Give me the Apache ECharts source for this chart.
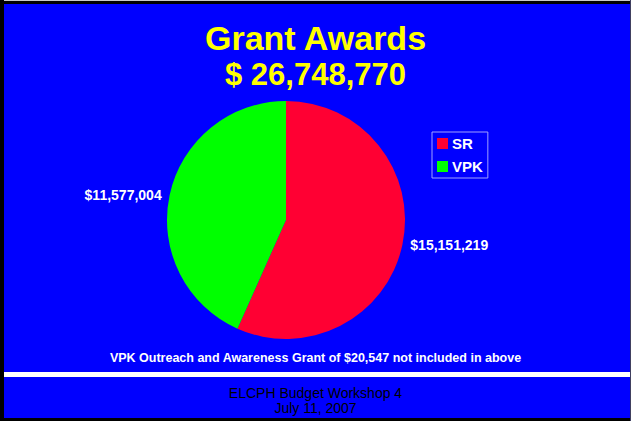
<!DOCTYPE html>
<html>
<head>
<meta charset="utf-8">
<script src="https://cdn.jsdelivr.net/npm/echarts@6/dist/echarts.min.js"></script>
<style>
html,body{margin:0;padding:0;background:#fff;}
#c{width:631px;height:421px;}
</style>
</head>
<body>
<div id="c"></div>
<script>
const categories = ['SR', 'VPK'];
const values = [15151219, 11577004];
const titleText = 'Grant Awards';
const totalText = '$ 26,748,770';
const noteText = 'VPK Outreach and Awareness Grant of $20,547 not included in above';
const footerLines = ['ELCPH Budget Workshop 4', 'July 11, 2007'];

const sliceColors = ['#FF0033', '#00FF00'];
const labelPads = [[6, 0, 0, 0], [0, 0, 6, 0]];
const FONT = '"Liberation Sans", Arial, Helvetica, sans-serif';

function money(v) {
  return '$' + v.toString().replace(/\B(?=(\d{3})+(?!\d))/g, ',');
}

const chart = echarts.init(document.getElementById('c'), null, {renderer: 'svg'});
chart.setOption({
  animation: false,
  backgroundColor: '#0000FF',
  title: [
    {
      text: titleText,
      subtext: totalText,
      left: 'center',
      top: 20,
      padding: 0,
      itemGap: 2,
      textStyle: {color: '#FFFF00', fontSize: 34, fontWeight: 'bold', fontFamily: FONT, lineHeight: 36},
      subtextStyle: {color: '#FFFF00', fontSize: 31, fontWeight: 'bold', fontFamily: FONT, lineHeight: 33}
    },
    {
      text: noteText,
      left: 'center',
      top: 351,
      padding: 0,
      textStyle: {color: '#FFFFFF', fontSize: 12.5, fontWeight: 'bold', fontFamily: FONT, lineHeight: 14}
    },
    {
      text: footerLines[0],
      left: 'center',
      top: 385,
      padding: 0,
      textStyle: {color: '#000000', fontSize: 14, fontWeight: 'normal', fontFamily: FONT, lineHeight: 15}
    },
    {
      text: footerLines[1],
      left: 'center',
      top: 400,
      padding: 0,
      textStyle: {color: '#000000', fontSize: 14, fontWeight: 'normal', fontFamily: FONT, lineHeight: 15}
    }
  ],
  legend: {
    orient: 'vertical',
    left: 432,
    top: 132,
    padding: [4, 5, 4, 5],
    borderColor: '#a0a0ff',
    borderWidth: 1,
    itemWidth: 11,
    itemHeight: 11,
    itemGap: 8,
    icon: 'rect',
    data: categories,
    textStyle: {color: '#FFFFFF', fontSize: 15, fontWeight: 'bold', fontFamily: FONT, padding: [0, 0, 0, -1]}
  },
  graphic: [
    {type: 'rect', shape: {x: 0, y: 0, width: 631, height: 4}, style: {fill: '#000'}, silent: true},
    {type: 'rect', shape: {x: 0, y: 0, width: 631, height: 1}, style: {fill: '#c8c8c8'}, silent: true},
    {type: 'rect', shape: {x: 0, y: 0, width: 4, height: 421}, style: {fill: '#000'}, silent: true},
    {type: 'rect', shape: {x: 0, y: 418, width: 631, height: 3}, style: {fill: '#000'}, silent: true},
    {type: 'rect', shape: {x: 630, y: 0, width: 1, height: 421}, style: {fill: '#404060'}, silent: true},
    {type: 'rect', shape: {x: 4, y: 372, width: 626, height: 5}, style: {fill: '#FFFFFF'}, silent: true}
  ],
  series: [{
    type: 'pie',
    center: [286, 220],
    radius: 119,
    startAngle: 90,
    clockwise: true,
    avoidLabelOverlap: false,
    emphasis: {disabled: true},
    label: {
      show: true,
      position: 'outside',
      color: '#FFFFFF',
      fontSize: 14,
      fontWeight: 'bold',
      fontFamily: FONT,
      distanceToLabelLine: 5,
      formatter: p => money(p.value)
    },
    labelLine: {show: false, length: 3, length2: 0},
    data: categories.map((c, i) => ({
      name: c,
      value: values[i],
      itemStyle: {color: sliceColors[i]},
      label: {padding: labelPads[i]}
    }))
  }]
});
</script>
</body>
</html>
